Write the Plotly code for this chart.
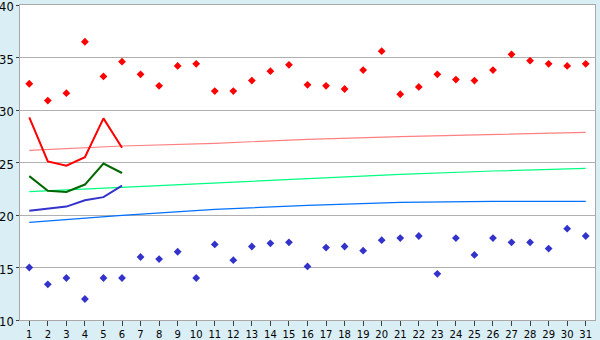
import plotly.graph_objects as go

days = list(range(1, 32))

max_vals = [32.5, 30.9, 31.6, 36.5, 33.2, 34.6, 33.4, 32.3, 34.2, 34.4,
            31.8, 31.8, 32.8, 33.7, 34.3, 32.4, 32.3, 32.0, 33.8, 35.6,
            31.5, 32.2, 33.4, 32.9, 32.8, 33.8, 35.3, 34.7, 34.4, 34.2, 34.4]
min_vals = [15.0, 13.4, 14.0, 12.0, 14.0, 14.0, 16.0, 15.8, 16.5, 14.0,
            17.2, 15.7, 17.0, 17.3, 17.4, 15.1, 16.9, 17.0, 16.6, 17.6,
            17.8, 18.0, 14.4, 17.8, 16.2, 17.8, 17.4, 17.4, 16.8, 18.7, 18.0]

line_days = [1, 2, 3, 4, 5, 6]
red_line = [29.3, 25.1, 24.7, 25.5, 29.2, 26.4]
green_line = [23.7, 22.3, 22.2, 22.9, 24.9, 24.0]
blue_line = [20.4, 20.6, 20.8, 21.4, 21.7, 22.8]

trend_days = [1, 6, 11, 16, 21, 26, 31]
pink_trend = [26.16, 26.57, 26.83, 27.21, 27.46, 27.68, 27.87]
green_trend = [22.22, 22.64, 23.07, 23.49, 23.87, 24.19, 24.44]
blue_trend = [19.3, 19.97, 20.54, 20.92, 21.21, 21.30, 21.30]

y_ticks = [10, 15, 20, 25, 30, 35, 40]

fig = go.Figure()

fig.add_trace(go.Scatter(x=trend_days, y=pink_trend, mode="lines",
                         line=dict(color="#ff8080", width=1.2), hoverinfo="skip"))
fig.add_trace(go.Scatter(x=trend_days, y=green_trend, mode="lines",
                         line=dict(color="#00ff80", width=1.2), hoverinfo="skip"))
fig.add_trace(go.Scatter(x=trend_days, y=blue_trend, mode="lines",
                         line=dict(color="#0070ff", width=1.2), hoverinfo="skip"))

fig.add_trace(go.Scatter(x=line_days, y=red_line, mode="lines",
                         line=dict(color="#ff0000", width=2)))
fig.add_trace(go.Scatter(x=line_days, y=green_line, mode="lines",
                         line=dict(color="#006600", width=2)))
fig.add_trace(go.Scatter(x=line_days, y=blue_line, mode="lines",
                         line=dict(color="#3333cc", width=2)))

fig.add_trace(go.Scatter(x=days, y=max_vals, mode="markers",
                         marker=dict(symbol="diamond", size=6, color="#ff0000")))
fig.add_trace(go.Scatter(x=days, y=min_vals, mode="markers",
                         marker=dict(symbol="diamond", size=6, color="#3333cc")))

fig.update_layout(
    width=600, height=340,
    margin=dict(l=20, r=5, t=5, b=20),
    paper_bgcolor="#d9eef5",
    plot_bgcolor="#ffffff",
    showlegend=False,
    font=dict(family="DejaVu Sans", color="#000000"),
)
fig.update_xaxes(
    range=[0.5, 31.5],
    tickmode="array", tickvals=days, ticktext=[str(d) for d in days],
    showgrid=False, zeroline=False,
    showline=True, linecolor="#a8a8a8", linewidth=1, mirror=True,
    ticks="outside", ticklen=5, tickcolor="#404040",
    tickfont=dict(size=10), automargin=False, fixedrange=True,
)
fig.update_yaxes(
    range=[10, 40.0001],
    tickmode="array", tickvals=y_ticks, ticktext=[str(v) for v in y_ticks],
    showgrid=True, gridcolor="#b0b0b0", gridwidth=1, zeroline=False,
    showline=True, linecolor="#a8a8a8", linewidth=1, mirror=True,
    ticks="outside", ticklen=3, tickcolor="#404040",
    tickfont=dict(size=11.5), ticklabeloverflow="allow", ticklabelshift=2,
    automargin=False, fixedrange=True,
)

fig.write_html("out.html")
